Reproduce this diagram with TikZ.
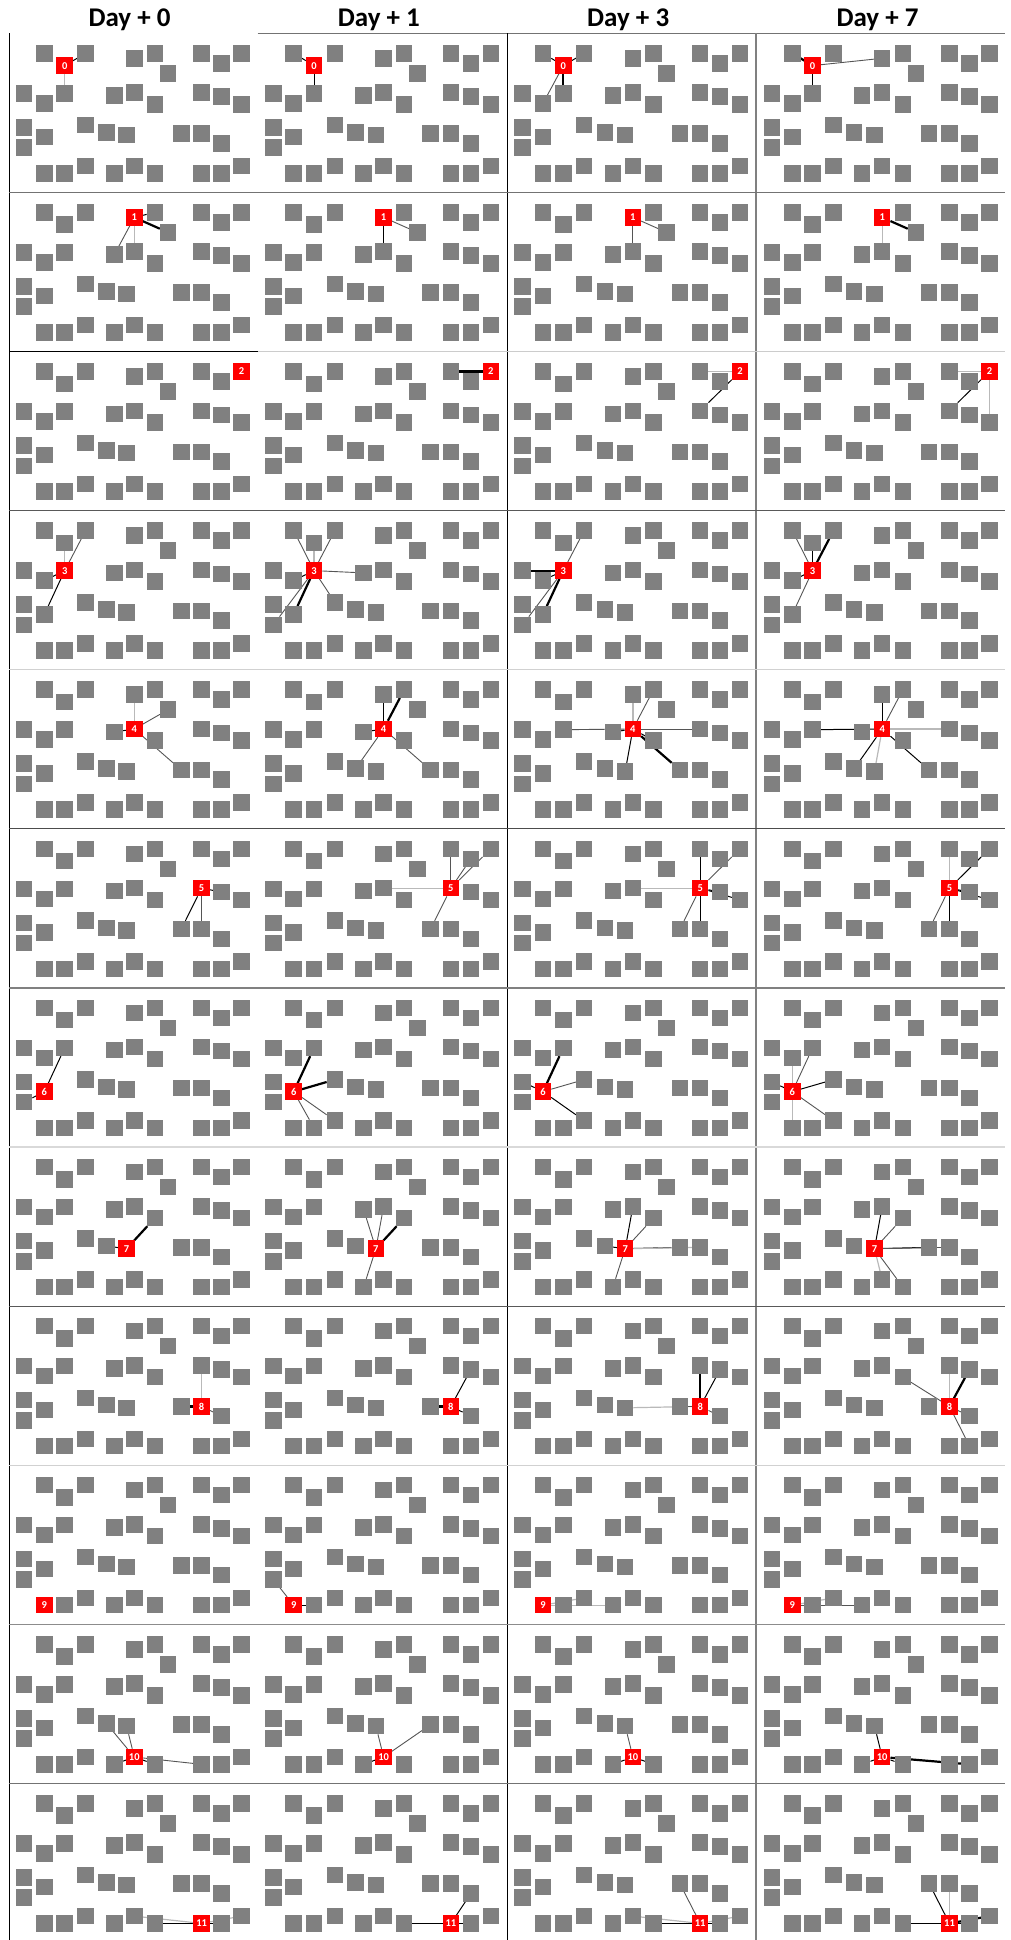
\documentclass[tikz,border=0pt]{standalone}
\usepackage{fontspec}
\setmainfont{Carlito}
\pgfdeclarelayer{background}
\pgfsetlayers{background,main}
\definecolor{sqgray}{RGB}{128,128,128}
\definecolor{edgegray}{RGB}{85,85,85}
\definecolor{lightedge}{RGB}{185,185,185}
\tikzset{
  sq/.style={minimum size=16.5pt, inner sep=0pt, outer sep=0pt, fill=sqgray, draw=none},
  graysq/.style={sq},
  redsq/.style={sq, fill=red, text=white, font=\bfseries\fontsize{10.5}{10.5}\selectfont},
  hdr/.style={anchor=base, inner sep=0pt, font=\bfseries\fontsize{27}{30}\selectfont},
  thk/.style={black, line width=2.2pt},
  blk/.style={black, line width=1pt},
  gry/.style={edgegray, line width=0.9pt},
  lgt/.style={lightedge, line width=1.2pt},
  lgtk/.style={lightedge, line width=2.4pt},
  sep/.style={line width=1.2pt},
}
\newcommand\ER[5]{\draw[#5] (n#1-#2-#3) -- (n#1-#2-#4);}
\begin{document}
\begin{tikzpicture}[x=1pt,y=-1pt]
\begin{pgfonlayer}{background}
\fill[white] (0,0) rectangle (1010,1940);
\end{pgfonlayer}
\useasboundingbox (0,0) rectangle (1010,1940);
% headers
\node[hdr] (h0) at (129.6,27) {Day + 0};
\node[hdr] (h1) at (378.9,27) {Day + 1};
\node[hdr] (h2) at (628.2,27) {Day + 3};
\node[hdr] (h3) at (877.5,27) {Day + 7};
% squares
\foreach \r/\rd in {0/2,1/4,2/9,3/12,4/14,5/16,6/20,7/24,8/26,9/28,10/32,11/34} {
  \foreach \c in {0,1,2,3} {
    \foreach \k/\x/\y in {1/35.4/20.0, 2/55.7/32.3, 3/76.6/20.0, 4/125.3/25.0, 5/145.9/20.0,
      6/159.1/40.0, 7/192.6/20.0, 8/212.6/30.0, 9/232.5/20.0,
      10/15.1/60.0, 11/35.4/70.0, 12/55.7/60.0, 13/105.3/62.3, 14/125.3/59.3,
      15/145.9/71.0, 16/192.6/59.3, 17/212.6/63.3, 18/232.5/71.0,
      19/15.1/94.0, 20/35.4/103.7, 21/15.1/114.3, 22/76.6/91.7, 23/97.3/99.0,
      24/117.6/101.7, 25/172.3/100.3, 26/192.6/100.3, 27/212.6/110.0,
      28/35.4/140.0, 29/55.7/140.0, 30/76.6/132.7, 31/105.3/140.0, 32/125.3/132.7,
      33/145.9/140.0, 34/192.6/140.0, 35/212.6/140.0, 36/232.5/132.7} {
      \ifnum\k=\rd\relax
        \node[redsq] (n\r-\c-\k) at ({9+249.3*\c+\x},{33.3+159.1*\r+\y}) {\r};
      \else
        \node[graysq] (n\r-\c-\k) at ({9+249.3*\c+\x},{33.3+159.1*\r+\y}) {};
      \fi
    }
  }
}
% panel borders
\draw[sep, black!55] (257.6,33.3) -- (1005,33.3);
\draw[line width=1pt, black] (9,33.3) -- (9,1940);
\draw[line width=0.8pt, black] (507,33.3) -- (507,1940);
\draw[sep, black!50] (756,33.3) -- (756,1940);
\draw[sep, black!55] (9,192.4) -- (1005,192.4);
\draw[sep, black!20] (257.6,351.5) -- (1005,351.5);
\draw[sep, black] (9,351.5) -- (257.6,351.5);
\draw[sep, black!65] (9,510.6) -- (1005,510.6);
\draw[sep, black!18] (9,669.7) -- (1005,669.7);
\draw[sep, black!70] (9,828.8) -- (1005,828.8);
\draw[sep, black!50] (9,987.9) -- (1005,987.9);
\draw[sep, black!15] (9,1147.0) -- (1005,1147.0);
\draw[sep, black!65] (9,1306.1) -- (1005,1306.1);
\draw[sep, black!18] (9,1465.2) -- (1005,1465.2);
\draw[sep, black!45] (9,1624.3) -- (1005,1624.3);
\draw[sep, black!55] (9,1783.4) -- (1005,1783.4);
% connectors
\begin{pgfonlayer}{background}
% row 0
\ER{0}{0}{2}{12}{lgt} \ER{0}{0}{2}{3}{blk}
\ER{0}{1}{2}{12}{blk} \ER{0}{1}{2}{1}{blk}
\ER{0}{2}{2}{12}{thk} \ER{0}{2}{2}{11}{gry} \ER{0}{2}{2}{1}{blk} \ER{0}{2}{2}{3}{blk}
\ER{0}{3}{2}{12}{blk} \ER{0}{3}{2}{1}{thk} \ER{0}{3}{2}{4}{gry}
% row 1
\ER{1}{0}{4}{13}{gry} \ER{1}{0}{4}{14}{lgt} \ER{1}{0}{4}{6}{thk} \ER{1}{0}{4}{5}{blk}
\ER{1}{1}{4}{14}{blk} \ER{1}{1}{4}{6}{gry}
\ER{1}{2}{4}{14}{gry} \ER{1}{2}{4}{6}{gry}
\ER{1}{3}{4}{14}{lgt} \ER{1}{3}{4}{6}{thk}
% row 2
\ER{2}{1}{9}{7}{thk}
\ER{2}{2}{9}{7}{lgt} \ER{2}{2}{9}{16}{blk}
\ER{2}{3}{9}{7}{lgt} \ER{2}{3}{9}{16}{blk} \ER{2}{3}{9}{18}{lgt}
% row 3
\ER{3}{0}{12}{2}{lgt} \ER{3}{0}{12}{3}{gry} \ER{3}{0}{12}{11}{blk} \ER{3}{0}{12}{20}{blk}
\ER{3}{1}{12}{1}{gry} \ER{3}{1}{12}{2}{lgt} \ER{3}{1}{12}{3}{gry} \ER{3}{1}{12}{13}{gry}
\ER{3}{1}{12}{11}{blk} \ER{3}{1}{12}{20}{thk} \ER{3}{1}{12}{21}{gry} \ER{3}{1}{12}{22}{gry}
\ER{3}{2}{12}{3}{gry} \ER{3}{2}{12}{10}{thk} \ER{3}{2}{12}{11}{blk} \ER{3}{2}{12}{20}{thk} \ER{3}{2}{12}{21}{gry}
\ER{3}{3}{12}{1}{gry} \ER{3}{3}{12}{2}{blk} \ER{3}{3}{12}{3}{thk} \ER{3}{3}{12}{11}{blk} \ER{3}{3}{12}{20}{gry}
% row 4
\ER{4}{0}{14}{4}{lgt} \ER{4}{0}{14}{6}{gry} \ER{4}{0}{14}{13}{blk} \ER{4}{0}{14}{25}{gry}
\ER{4}{1}{14}{4}{blk} \ER{4}{1}{14}{5}{thk} \ER{4}{1}{14}{13}{blk} \ER{4}{1}{14}{23}{gry} \ER{4}{1}{14}{25}{gry}
\ER{4}{2}{14}{4}{lgt} \ER{4}{2}{14}{5}{gry} \ER{4}{2}{14}{12}{gry} \ER{4}{2}{14}{13}{blk}
\ER{4}{2}{14}{16}{gry} \ER{4}{2}{14}{24}{blk} \ER{4}{2}{14}{25}{thk} \ER{4}{2}{14}{15}{blk}
\ER{4}{3}{14}{4}{blk} \ER{4}{3}{14}{5}{gry} \ER{4}{3}{14}{12}{blk} \ER{4}{3}{14}{16}{lgtk}
\ER{4}{3}{14}{23}{blk} \ER{4}{3}{14}{24}{lgt} \ER{4}{3}{14}{25}{blk}
% row 5
\ER{5}{0}{16}{17}{blk} \ER{5}{0}{16}{25}{blk} \ER{5}{0}{16}{26}{gry}
\ER{5}{1}{16}{7}{gry} \ER{5}{1}{16}{8}{gry} \ER{5}{1}{16}{9}{gry} \ER{5}{1}{16}{14}{lgt} \ER{5}{1}{16}{25}{gry}
\ER{5}{2}{16}{7}{blk} \ER{5}{2}{16}{9}{gry} \ER{5}{2}{16}{14}{lgt} \ER{5}{2}{16}{17}{blk}
\ER{5}{2}{16}{18}{blk} \ER{5}{2}{16}{25}{gry} \ER{5}{2}{16}{26}{blk}
\ER{5}{3}{16}{7}{lgt} \ER{5}{3}{16}{9}{blk} \ER{5}{3}{16}{17}{blk} \ER{5}{3}{16}{18}{blk}
\ER{5}{3}{16}{25}{gry} \ER{5}{3}{16}{26}{blk}
% row 6
\ER{6}{0}{20}{12}{blk} \ER{6}{0}{20}{21}{blk}
\ER{6}{1}{20}{12}{thk} \ER{6}{1}{20}{22}{thk} \ER{6}{1}{20}{29}{gry} \ER{6}{1}{20}{30}{gry}
\ER{6}{2}{20}{12}{thk} \ER{6}{2}{20}{22}{gry} \ER{6}{2}{20}{19}{blk} \ER{6}{2}{20}{30}{blk}
\ER{6}{3}{20}{11}{lgt} \ER{6}{3}{20}{12}{gry} \ER{6}{3}{20}{22}{blk} \ER{6}{3}{20}{19}{blk}
\ER{6}{3}{20}{30}{gry} \ER{6}{3}{20}{28}{lgt}
% row 7
\ER{7}{0}{24}{15}{thk} \ER{7}{0}{24}{23}{blk}
\ER{7}{1}{24}{13}{gry} \ER{7}{1}{24}{14}{gry} \ER{7}{1}{24}{15}{thk} \ER{7}{1}{24}{31}{gry}
\ER{7}{2}{24}{14}{blk} \ER{7}{2}{24}{15}{gry} \ER{7}{2}{24}{23}{blk} \ER{7}{2}{24}{25}{blk}
\ER{7}{2}{24}{26}{lgt} \ER{7}{2}{24}{31}{gry}
\ER{7}{3}{24}{14}{blk} \ER{7}{3}{24}{15}{gry} \ER{7}{3}{24}{25}{blk} \ER{7}{3}{24}{26}{gry}
\ER{7}{3}{24}{32}{lgt} \ER{7}{3}{24}{33}{gry}
% row 8
\ER{8}{0}{26}{16}{lgt} \ER{8}{0}{26}{25}{thk} \ER{8}{0}{26}{27}{gry}
\ER{8}{1}{26}{17}{blk} \ER{8}{1}{26}{25}{thk} \ER{8}{1}{26}{27}{blk}
\ER{8}{2}{26}{16}{thk} \ER{8}{2}{26}{17}{blk} \ER{8}{2}{26}{24}{lgt} \ER{8}{2}{26}{25}{gry} \ER{8}{2}{26}{27}{gry}
\ER{8}{3}{26}{15}{gry} \ER{8}{3}{26}{16}{lgt} \ER{8}{3}{26}{17}{thk} \ER{8}{3}{26}{35}{gry} \ER{8}{3}{26}{27}{gry}
% row 9
\ER{9}{1}{28}{21}{gry} \ER{9}{1}{28}{29}{blk}
\ER{9}{2}{28}{29}{blk} \ER{9}{2}{28}{30}{lgt} \ER{9}{2}{28}{31}{lgt}
\ER{9}{3}{28}{29}{blk} \ER{9}{3}{28}{30}{lgt} \ER{9}{3}{28}{31}{gry}
% row 10
\ER{10}{0}{32}{23}{gry} \ER{10}{0}{32}{24}{gry} \ER{10}{0}{32}{31}{blk} \ER{10}{0}{32}{34}{gry} \ER{10}{0}{32}{33}{blk}
\ER{10}{1}{32}{24}{gry} \ER{10}{1}{32}{25}{gry} \ER{10}{1}{32}{31}{blk}
\ER{10}{2}{32}{24}{gry} \ER{10}{2}{32}{31}{blk} \ER{10}{2}{32}{33}{blk}
\ER{10}{3}{32}{24}{blk} \ER{10}{3}{32}{35}{thk} \ER{10}{3}{32}{31}{blk} \ER{10}{3}{32}{33}{blk}
% row 11
\ER{11}{0}{34}{33}{blk} \ER{11}{0}{34}{32}{lgt} \ER{11}{0}{34}{35}{blk} \ER{11}{0}{34}{36}{lgt}
\ER{11}{1}{34}{33}{blk} \ER{11}{1}{34}{27}{blk} \ER{11}{1}{34}{35}{blk}
\ER{11}{2}{34}{33}{blk} \ER{11}{2}{34}{32}{lgt} \ER{11}{2}{34}{25}{gry} \ER{11}{2}{34}{35}{blk} \ER{11}{2}{34}{36}{lgt}
\ER{11}{3}{34}{33}{blk} \ER{11}{3}{34}{25}{blk} \ER{11}{3}{34}{26}{lgt} \ER{11}{3}{34}{35}{blk} \ER{11}{3}{34}{36}{thk}
\end{pgfonlayer}
\end{tikzpicture}
\end{document}
